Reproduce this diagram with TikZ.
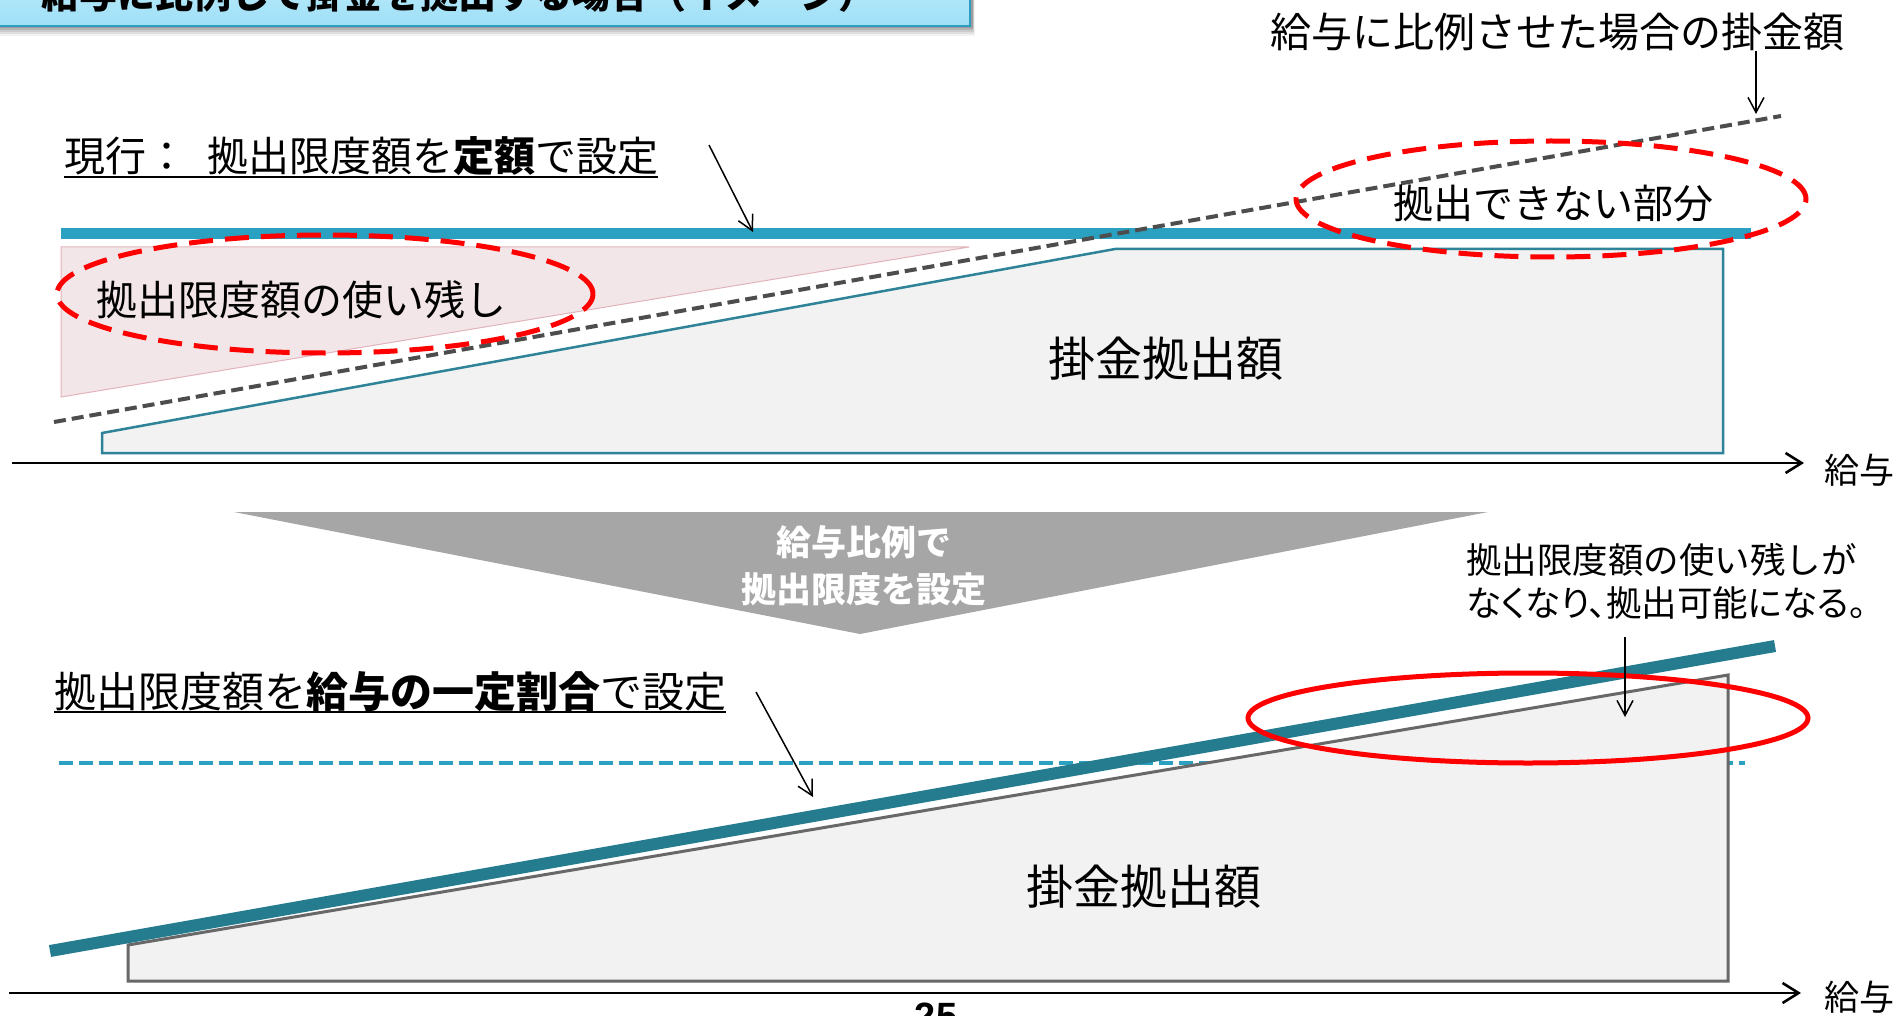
\documentclass[tikz,border=0pt]{standalone}
\usepackage{fontspec}
\setmainfont{Noto Sans CJK JP}
\newfontfamily\jpprop{Noto Sans CJK JP}[RawFeature=+palt]
\newfontfamily\latinsans{Liberation Sans}
\usetikzlibrary{arrows.meta}
\newcommand\setfs[1]{\fontsize{#1}{#1}\selectfont}
\definecolor{barteal}{HTML}{2AA1C0}
\definecolor{boxteal}{HTML}{2F8399}
\definecolor{slantteal}{HTML}{247C8E}
\definecolor{boxfill}{HTML}{F2F2F2}
\definecolor{pinkfill}{HTML}{F3E6E8}
\definecolor{pinkline}{HTML}{E2B3BB}
\definecolor{dashgray}{HTML}{4D4D4D}
\definecolor{chevgray}{HTML}{A6A6A6}
\definecolor{titletop}{HTML}{D4F2FC}
\definecolor{titlebot}{HTML}{9EE0F7}
\definecolor{titleline}{HTML}{2E9CC0}
\tikzset{
  lbl/.style={inner sep=0pt, text=black},
  callout/.style={line width=1.5pt, -{Straight Barb[length=15pt,width=16pt]}},
  axisline/.style={line width=2.6pt, -{Straight Barb[length=16pt,width=20pt]}},
  reddash/.style={draw=red, line width=5pt, dash pattern=on 24pt off 12pt},
  uline/.style={line width=2.5pt},
}
\begin{document}
\begin{tikzpicture}[x=1pt,y=-1pt]
\useasboundingbox (0,0) rectangle (1900,1016);
\fill[white] (0,0) rectangle (1900,1016);

% ---------- title box ----------
\foreach \k/\o in {10/0.05,8/0.07,6/0.09,4/0.11,2/0.13}
  \fill[black, opacity=\o] (0,-60) rectangle (972+\k*0.3,26+\k);
\shade[top color=titletop, bottom color=titlebot, draw=titleline, line width=2pt]
  (-5,-60) rectangle (970,26);
\node[lbl, anchor=base] (title) at (459,9) {\setfs{38}\bfseries 給与に比例して掛金を拠出する場合（イメージ）};

% ---------- upper panel ----------
\filldraw[fill=pinkfill, draw=pinkline, line width=1pt] (61,247) -- (969,247) -- (61,397) -- cycle;
\filldraw[fill=boxfill, draw=boxteal, line width=2.5pt]
  (102,433) -- (1115,249) -- (1723,249) -- (1723,453) -- (102,453) -- cycle;
\fill[barteal] (61,228) rectangle (1751,239);
\coordinate (g1) at (54,422);
\coordinate (g2) at (1781,116);
\draw[dashgray, line width=4pt, dash pattern=on 12pt off 6pt] (g1) -- (g2);
\draw[reddash] (325,294) ellipse [x radius=268pt, y radius=59pt];
\draw[reddash] (1551,199) ellipse [x radius=255pt, y radius=58pt];

\node[lbl, anchor=base west] (cur) at (64,172) {\setfs{41}現行：\hspace{20pt}拠出限度額を{\bfseries 定額}で設定};
\draw[uline] ([yshift=-5pt]cur.base west) -- ([yshift=-5pt]cur.base east);
\coordinate (c1s) at (709,145);
\coordinate (c1e) at (753,232);
\draw[callout] (c1s) -- (c1e);

\node[lbl] (prop) at (1557,32) {\setfs{41}給与に比例させた場合の掛金額};
\coordinate (p1e) at (1756,114);
\draw[callout] (prop.south -| p1e) -- (p1e);

\node[lbl] (unused) at (301,300) {\setfs{41}拠出限度額の使い残し};
\node[lbl] (cannot) at (1553,203) {\setfs{40}拠出できない部分};
\node[lbl] (amt1) at (1166,359) {\setfs{47}掛金拠出額};

\coordinate (ax1s) at (12,463);
\coordinate (ax1e) at (1804,463);
\draw[axisline] (ax1s) -- (ax1e);
\node[lbl, anchor=west] (sal1) at (1824,470) {\setfs{35}給与};

% ---------- chevron ----------
\fill[chevgray] (234,512) -- (1488,512) -- (860,634) -- cycle;
\node[lbl, align=center, text=white, font={\fontsize{35}{47}\selectfont\bfseries}] (chev) at (864,566) {給与比例で\\拠出限度を設定};

% ---------- lower panel ----------
\draw[barteal, line width=4pt, dash pattern=on 14pt off 6pt] (59,763) -- (1745,763);
\filldraw[fill=boxfill, draw=dashgray!85, line width=3pt]
  (128,945) -- (1728,675) -- (1728,981) -- (128,981) -- cycle;
\coordinate (s1) at (50,951);
\coordinate (s2) at (1775,646);
\draw[slantteal, line width=12pt] (s1) -- (s2);
\draw[red, line width=5pt] (1528,718) ellipse [x radius=280pt, y radius=45pt];

\node[lbl, anchor=base west] (ratio) at (54,707) {\setfs{42}拠出限度額を{\bfseries 給与の一定割合}で設定};
\draw[uline] ([yshift=-5pt]ratio.base west) -- ([yshift=-5pt]ratio.base east);
\coordinate (c2s) at (756,692);
\coordinate (c2e) at (813,797);
\draw[callout] (c2s) -- (c2e);

\node[lbl, align=left, anchor=west, font={\fontsize{35.5}{43}\selectfont}] (note) at (1466,581) {拠出限度額の使い残しが\\{\jpprop なくなり、拠出可能になる。}};
\coordinate (n1s) at (1625,637);
\coordinate (n1e) at (1625,717);
\draw[callout] (n1s) -- (n1e);

\node[lbl] (amt2) at (1144,887) {\setfs{47}掛金拠出額};

\coordinate (ax2s) at (9,993);
\coordinate (ax2e) at (1801,993);
\draw[axisline] (ax2s) -- (ax2e);
\node[lbl, anchor=west] (sal2) at (1824,997) {\setfs{35}給与};

\node[lbl, anchor=base] (pg) at (936,1029) {\latinsans\bfseries\setfs{38}25};
\end{tikzpicture}
\end{document}
